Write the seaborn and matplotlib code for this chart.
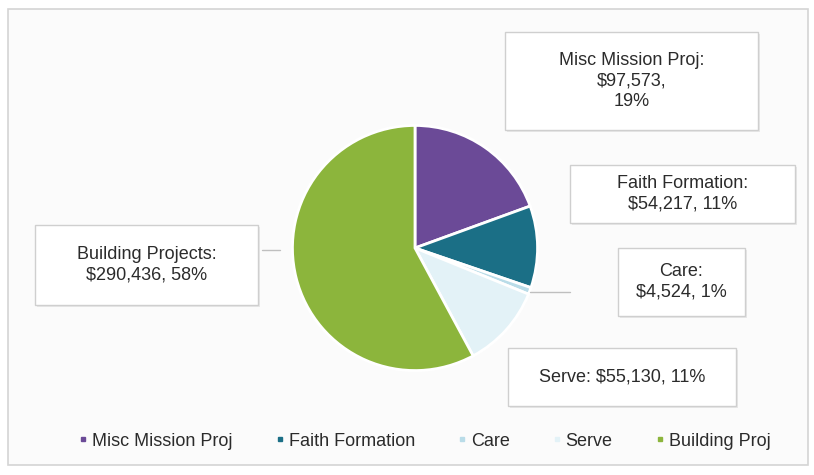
import matplotlib
matplotlib.use("Agg")
import matplotlib.pyplot as plt
from matplotlib.patches import Rectangle
from matplotlib.lines import Line2D
import seaborn as sns

categories = ["Misc Mission Proj", "Faith Formation", "Care", "Serve", "Building Proj"]
amounts = [97573, 54217, 4524, 55130, 290436]
label_names = ["Misc Mission Proj", "Faith Formation", "Care", "Serve", "Building Projects"]
percents = [19, 11, 1, 11, 58]
colors = sns.color_palette(["#6b4a97", "#1b6f86", "#b9dce8", "#e3f2f7", "#8cb53c"])

sns.set_theme(style="white")
plt.rcParams["font.family"] = ["Liberation Sans", "DejaVu Sans"]

fig = plt.figure(figsize=(8.14, 4.75), dpi=100)
fig.patch.set_facecolor("white")

# background + outer border
bg = fig.add_axes([0, 0, 1, 1])
bg.set_xlim(0, 814)
bg.set_ylim(475, 0)
bg.axis("off")
bg.add_patch(Rectangle((8, 9), 800, 456, facecolor="#fbfbfb", edgecolor="#d4d4d4", lw=1.2))

# pie
ax = fig.add_axes([290 / 814, (475 - 373) / 475, 250 / 814, 250 / 475])
wedges, _ = ax.pie(amounts, colors=colors, startangle=90, counterclock=False,
                   wedgeprops=dict(edgecolor="white", linewidth=2))
ax.set_xlim(-1.02, 1.02)
ax.set_ylim(-1.02, 1.02)
ax.set_aspect("auto")
ax.axis("off")

# label boxes on top
ov = fig.add_axes([0, 0, 1, 1])
ov.patch.set_alpha(0)
ov.set_xlim(0, 814)
ov.set_ylim(475, 0)
ov.axis("off")

boxes = [
    (505, 32, 253, 98, f"{label_names[0]}:\n${amounts[0]:,},\n{percents[0]}%"),
    (570, 165, 225, 58, f"{label_names[1]}:\n${amounts[1]:,}, {percents[1]}%"),
    (618, 248, 127, 68, f"{label_names[2]}:\n${amounts[2]:,}, {percents[2]}%"),
    (508, 348, 228, 58, f"{label_names[3]}: ${amounts[3]:,}, {percents[3]}%"),
    (35, 225, 223, 80, f"{label_names[4]}:\n${amounts[4]:,}, {percents[4]}%"),
]
for x, y, w, h, txt in boxes:
    ov.add_patch(Rectangle((x + 2, y + 2), w, h, facecolor="#e8e8e8", edgecolor="none", zorder=2))
    ov.add_patch(Rectangle((x, y), w, h, facecolor="white", edgecolor="#cfcfcf", lw=1, zorder=3))
    ov.text(x + w / 2, y + h / 2, txt, ha="center", va="center", fontsize=13,
            color="#2b2b2b", linespacing=1.3, zorder=4)

# leader lines
ov.plot([262, 280], [250, 250], color="#bfbfbf", lw=1, zorder=1)
ov.plot([530, 570], [292, 292], color="#bfbfbf", lw=1, zorder=1)

# legend
handles = [Line2D([0], [0], marker="s", linestyle="none", markersize=3.5,
                  markerfacecolor=c, markeredgecolor=c) for c in colors]
fig.legend(handles, categories, loc="center", bbox_to_anchor=(424 / 814, 1 - 441 / 475),
           ncol=5, frameon=False, fontsize=13, handletextpad=0.2, columnspacing=2.3,
           handlelength=0.6, labelcolor="#2b2b2b")

fig.savefig("out.png", dpi=100)
